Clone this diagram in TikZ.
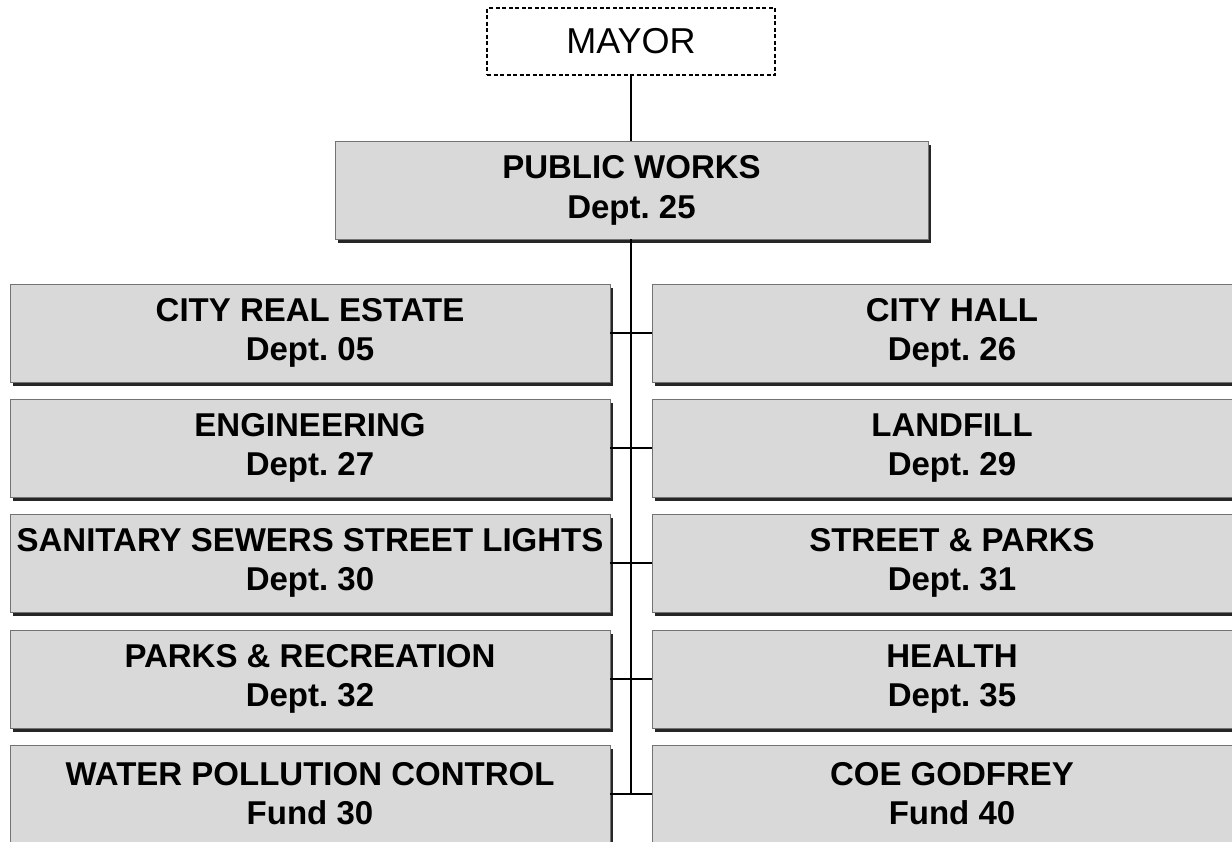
\documentclass[tikz,border=0pt]{standalone}
\usepackage{fontspec}
\setmainfont{Liberation Sans}
\usetikzlibrary{shadows}
\definecolor{boxgray}{RGB}{217,217,217}
\frenchspacing
\begin{document}
\begin{tikzpicture}[x=1pt,y=-1pt,
  unitbox/.style={draw=black!55, line width=0.6pt, fill=boxgray,
    minimum width=600pt, minimum height=98pt, inner sep=0pt, align=center,
    font=\fontsize{33}{39}\selectfont\bfseries,
    drop shadow={shadow xshift=3pt, shadow yshift=-3.5pt, opacity=1, fill=black!85}},
  headbox/.style={unitbox, minimum width=593pt, font=\fontsize{33}{40}\selectfont\bfseries},
  mayorbox/.style={draw=black, dash pattern=on 4pt off 2.5pt, line width=1.3pt, fill=white,
    minimum width=288pt, minimum height=67pt, inner sep=0pt, font=\fontsize{36}{40}\selectfont},
  link/.style={draw=black, line width=1.3pt}]
\useasboundingbox (0,0) rectangle (1232,841);
\clip (0,0) rectangle (1232,841);

\node[mayorbox] (mayor) at (631,41.5) {MAYOR};
\node[headbox] (pw) at (631.5,190) {PUBLIC WORKS\\Dept. 25};

\node[unitbox] (l1) at (310,333) {CITY REAL ESTATE\\Dept. 05};
\node[unitbox] (l2) at (310,448) {ENGINEERING\\Dept. 27};
\node[unitbox] (l3) at (310,563) {SANITARY SEWERS STREET LIGHTS\\Dept. 30};
\node[unitbox] (l4) at (310,679) {PARKS \& RECREATION\\Dept. 32};
\node[unitbox] (l5) at (310,794) {WATER POLLUTION CONTROL\\Fund 30};

\node[unitbox] (r1) at (952,333) {CITY HALL\\Dept. 26};
\node[unitbox] (r2) at (952,448) {LANDFILL\\Dept. 29};
\node[unitbox] (r3) at (952,563) {STREET \& PARKS\\Dept. 31};
\node[unitbox] (r4) at (952,679) {HEALTH\\Dept. 35};
\node[unitbox] (r5) at (952,794) {COE GODFREY\\Fund 40};

\coordinate (j5) at (631,794);

\draw[link] (mayor.south) -- (mayor.south |- pw.north);
\draw[link] (pw.south -| mayor.south) -- (j5);
\draw[link] (l1.east) -- (r1.west);
\draw[link] (l2.east) -- (r2.west);
\draw[link] (l3.east) -- (r3.west);
\draw[link] (l4.east) -- (r4.west);
\draw[link] (l5.east) -- (r5.west);
\end{tikzpicture}
\end{document}
